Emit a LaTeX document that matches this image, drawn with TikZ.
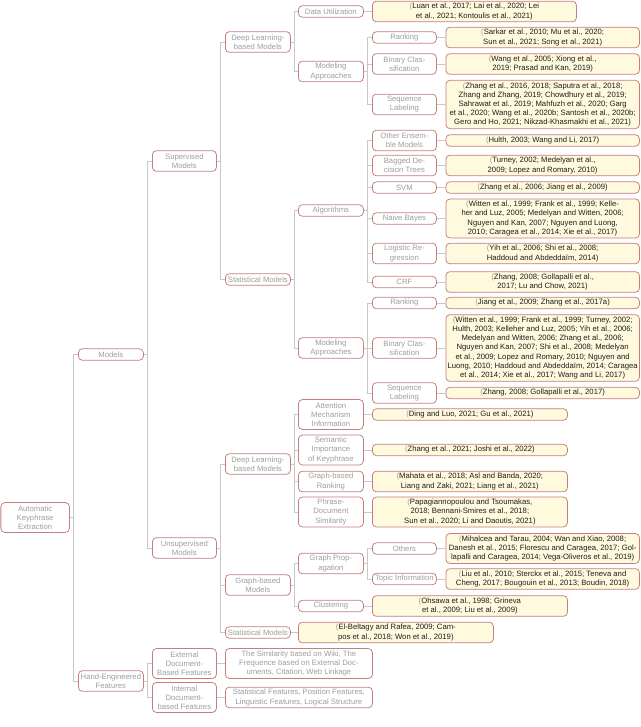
\documentclass[tikz,border=0pt]{standalone}
\usepackage{fontspec}
\setmainfont{Liberation Sans}
\definecolor{bordc}{RGB}{196,126,126}
\definecolor{greyc}{RGB}{158,158,158}
\definecolor{creamc}{RGB}{255,249,222}
\definecolor{linec}{RGB}{200,200,200}
\definecolor{leaftxt}{RGB}{30,30,30}
\newcommand{\op}{{\color{greyc}(}}
\tikzset{
  box/.style={draw=bordc, line width=0.75pt, rounded corners=4pt, anchor=west, align=center,
    inner xsep=1pt, inner ysep=0.8pt, font=\fontsize{7.7}{9.2}\selectfont},
  cat/.style={box, fill=white, text=greyc, minimum width=65pt},
  leaf/.style={box, fill=creamc, text=leaftxt, minimum width=193.5pt},
  wleaf/.style={box, fill=white, text=greyc, minimum width=147pt},
  l1/.style={minimum height=11.5pt},
  l2/.style={minimum height=20.7pt},
  l3/.style={minimum height=29.9pt},
  l4/.style={minimum height=39.1pt},
  l5/.style={minimum height=48.3pt},
  l7/.style={minimum height=66.7pt},
  conn/.style={draw=linec, line width=0.7pt}
}
\begin{document}
\begin{tikzpicture}[x=1pt,y=-1pt]
\useasboundingbox (0,0) rectangle (640,727);
% column 0
\node[cat,l3,minimum width=68.5pt] (ake) at (0.5,517.5) {Automatic\\Keyphrase\\Extraction};
% column 1
\node[cat,l1] (models) at (78,354.5) {Models};
\node[cat,l2] (hand) at (78,681) {Hand-Engineered\\Features};
% column 2
\node[cat,l2,minimum width=64pt] (sup) at (152,161) {Supervised\\Models};
\node[cat,l2,minimum width=64pt] (unsup) at (152,548) {Unsupervised\\Models};
\node[cat,l3,minimum width=64pt] (ext) at (152,663.5) {External\\Document-\\Based Features};
\node[cat,l3,minimum width=64pt] (int) at (152,697.5) {Internal\\Document-\\based Features};
% column 3
\node[cat,l2] (sdl) at (225,42) {Deep Learning-\\based Models};
\node[cat,l1] (sstat) at (225,279.5) {Statistical Models};
\node[cat,l2] (udl) at (225,464) {Deep Learning-\\based Models};
\node[cat,l2] (ugraph) at (225,585) {Graph-based\\Models};
\node[cat,l1] (ustat) at (225,632.5) {Statistical Models};
\node[wleaf,l3] (extl) at (225,663.5) {The Similarity based on Wiki, The\\Frequence based on External Doc-\\uments, Citation, Web Linkage};
\node[wleaf,l2] (intl) at (225,697.5) {Statistical Features, Position Features,\\Linguistic Features, Logical Structure};
% column 4
\node[cat,l1] (data) at (298,11.5) {Data Utilization};
\node[cat,l2] (smod) at (298,71.5) {Modeling\\Approaches};
\node[cat,l1] (alg) at (298,210.5) {Algorithms};
\node[cat,l2] (smod2) at (298,348) {Modeling\\Approaches};
\node[cat,l3] (att) at (298,414.5) {Attention\\Mechanism\\Information};
\node[cat,l3] (sem) at (298,450) {Semantic\\Importance\\of Keyphrase};
\node[cat,l2] (grank) at (298,481.5) {Graph-based\\Ranking};
\node[cat,l3] (phr) at (298,512) {Phrase-\\Document\\Similarity};
\node[cat,l2] (gprop) at (298,563.5) {Graph Prop-\\agation};
\node[cat,l1] (clus) at (298,606) {Clustering};
\node[leaf,l2,minimum width=195pt] (ustatl) at (298,632.5) {\op El-Beltagy and Rafea, 2009; Cam-\\pos et al., 2018; Won et al., 2019)};
% column 5
\node[cat,l1,minimum width=64pt] (rank) at (372,37.5) {Ranking};
\node[cat,l2,minimum width=64pt] (bin) at (372,64) {Binary Clas-\\sification};
\node[cat,l2,minimum width=64pt] (seq) at (372,104.5) {Sequence\\Labeling};
\node[cat,l2,minimum width=64pt] (oth) at (372,140.5) {Other Ensem-\\ble Models};
\node[cat,l2,minimum width=64pt] (bag) at (372,165.5) {Bagged De-\\cision Trees};
\node[cat,l1,minimum width=64pt] (svm) at (372,187.5) {SVM};
\node[cat,l1,minimum width=64pt] (nb) at (372,218.5) {Naive Bayes};
\node[cat,l2,minimum width=64pt] (lr) at (372,253.5) {Logistic Re-\\gression};
\node[cat,l1,minimum width=64pt] (crf) at (372,282) {CRF};
\node[cat,l1,minimum width=64pt] (rank2) at (372,303) {Ranking};
\node[cat,l2,minimum width=64pt] (bin2) at (372,348) {Binary Clas-\\sification};
\node[cat,l2,minimum width=64pt] (seq2) at (372,393) {Sequence\\Labeling};
\node[cat,l1,minimum width=64pt] (others) at (372,548.5) {Others};
\node[cat,l1,minimum width=64pt] (topic) at (372,579) {Topic Information};
\node[leaf,l2,minimum width=204pt] (datal) at (372,11.5) {\op Luan et al., 2017; Lai et al., 2020; Lei\\et al., 2021; Kontoulis et al., 2021)};
\node[leaf,l1,minimum width=195pt] (attl) at (372,414.5) {\op Ding and Luo, 2021; Gu et al., 2021)};
\node[leaf,l1,minimum width=195pt] (seml) at (372,450) {\op Zhang et al., 2021; Joshi et al., 2022)};
\node[leaf,l2,minimum width=195pt] (grankl) at (372,481.5) {\op Mahata et al., 2018; Asl and Banda, 2020;\\Liang and Zaki, 2021; Liang et al., 2021)};
\node[leaf,l3,minimum width=195pt] (phrl) at (372,512) {\op Papagiannopoulou and Tsoumakas,\\2018; Bennani-Smires et al., 2018;\\Sun et al., 2020; Li and Daoutis, 2021)};
\node[leaf,l2,minimum width=195pt] (clusl) at (372,606) {\op Ohsawa et al., 1998; Grineva\\et al., 2009; Liu et al., 2009)};
% column 6
\node[leaf,l2] (rankl) at (445.5,37.5) {\op Sarkar et al., 2010; Mu et al., 2020;\\Sun et al., 2021; Song et al., 2021)};
\node[leaf,l2] (binl) at (445.5,64) {\op Wang et al., 2005; Xiong et al.,\\2019; Prasad and Kan, 2019)};
\node[leaf,l5] (seql) at (445.5,104.5) {\op Zhang et al., 2016, 2018; Saputra et al., 2018;\\Zhang and Zhang, 2019; Chowdhury et al., 2019;\\Sahrawat et al., 2019; Mahfuzh et al., 2020; Garg\\et al., 2020; Wang et al., 2020b; Santosh et al., 2020b;\\Gero and Ho, 2021; Nikzad-Khasmakhi et al., 2021)};
\node[leaf,l1] (othl) at (445.5,140.5) {\op Hulth, 2003; Wang and Li, 2017)};
\node[leaf,l2] (bagl) at (445.5,165.5) {\op Turney, 2002; Medelyan et al.,\\2009; Lopez and Romary, 2010)};
\node[leaf,l1] (svml) at (445.5,187.5) {\op Zhang et al., 2006; Jiang et al., 2009)};
\node[leaf,l4] (nbl) at (445.5,218.5) {\op Witten et al., 1999; Frank et al., 1999; Kelle-\\her and Luz, 2005; Medelyan and Witten, 2006;\\Nguyen and Kan, 2007; Nguyen and Luong,\\2010; Caragea et al., 2014; Xie et al., 2017)};
\node[leaf,l2] (lrl) at (445.5,253.5) {\op Yih et al., 2006; Shi et al., 2008;\\Haddoud and Abdeddaïm, 2014)};
\node[leaf,l2] (crfl) at (445.5,282) {\op Zhang, 2008; Gollapalli et al.,\\2017; Lu and Chow, 2021)};
\node[leaf,l1] (rank2l) at (445.5,303) {\op Jiang et al., 2009; Zhang et al., 2017a)};
\node[leaf,l7] (bin2l) at (445.5,348) {\op Witten et al., 1999; Frank et al., 1999; Turney, 2002;\\Hulth, 2003; Kelleher and Luz, 2005; Yih et al., 2006;\\Medelyan and Witten, 2006; Zhang et al., 2006;\\Nguyen and Kan, 2007; Shi et al., 2008; Medelyan\\et al., 2009; Lopez and Romary, 2010; Nguyen and\\Luong, 2010; Haddoud and Abdeddaïm, 2014; Caragea\\et al., 2014; Xie et al., 2017; Wang and Li, 2017)};
\node[leaf,l1] (seq2l) at (445.5,393) {\op Zhang, 2008; Gollapalli et al., 2017)};
\node[leaf,l3] (othersl) at (445.5,548.5) {\op Mihalcea and Tarau, 2004; Wan and Xiao, 2008;\\Danesh et al., 2015; Florescu and Caragea, 2017; Gol-\\lapalli and Caragea, 2014; Vega-Oliveros et al., 2019)};
\node[leaf,l2] (topicl) at (445.5,579) {\op Liu et al., 2010; Sterckx et al., 2015; Teneva and\\Cheng, 2017; Bougouin et al., 2013; Boudin, 2018)};
% forks
\foreach \p/\c in {ake/models, ake/hand, models/sup, models/unsup, sup/sdl, sup/sstat,
  sdl/data, sdl/smod, smod/rank, smod/bin, smod/seq, sstat/alg, sstat/smod2,
  alg/oth, alg/bag, alg/svm, alg/nb, alg/lr, alg/crf, smod2/rank2, smod2/bin2, smod2/seq2,
  unsup/udl, unsup/ugraph, unsup/ustat, udl/att, udl/sem, udl/grank, udl/phr,
  ugraph/gprop, ugraph/clus, gprop/others, gprop/topic, hand/ext, hand/int}
  \draw[conn] (\p.east) -- ++(4,0) |- (\c.west);
% leaf links
\foreach \a/\b in {data/datal, rank/rankl, bin/binl, seq/seql, oth/othl, bag/bagl, svm/svml,
  nb/nbl, lr/lrl, crf/crfl, rank2/rank2l, bin2/bin2l, seq2/seq2l, att/attl, sem/seml,
  grank/grankl, phr/phrl, others/othersl, topic/topicl, clus/clusl, ustat/ustatl,
  ext/extl, int/intl}
  \draw[conn] (\a.east) -- (\b.west);
\end{tikzpicture}
\end{document}
